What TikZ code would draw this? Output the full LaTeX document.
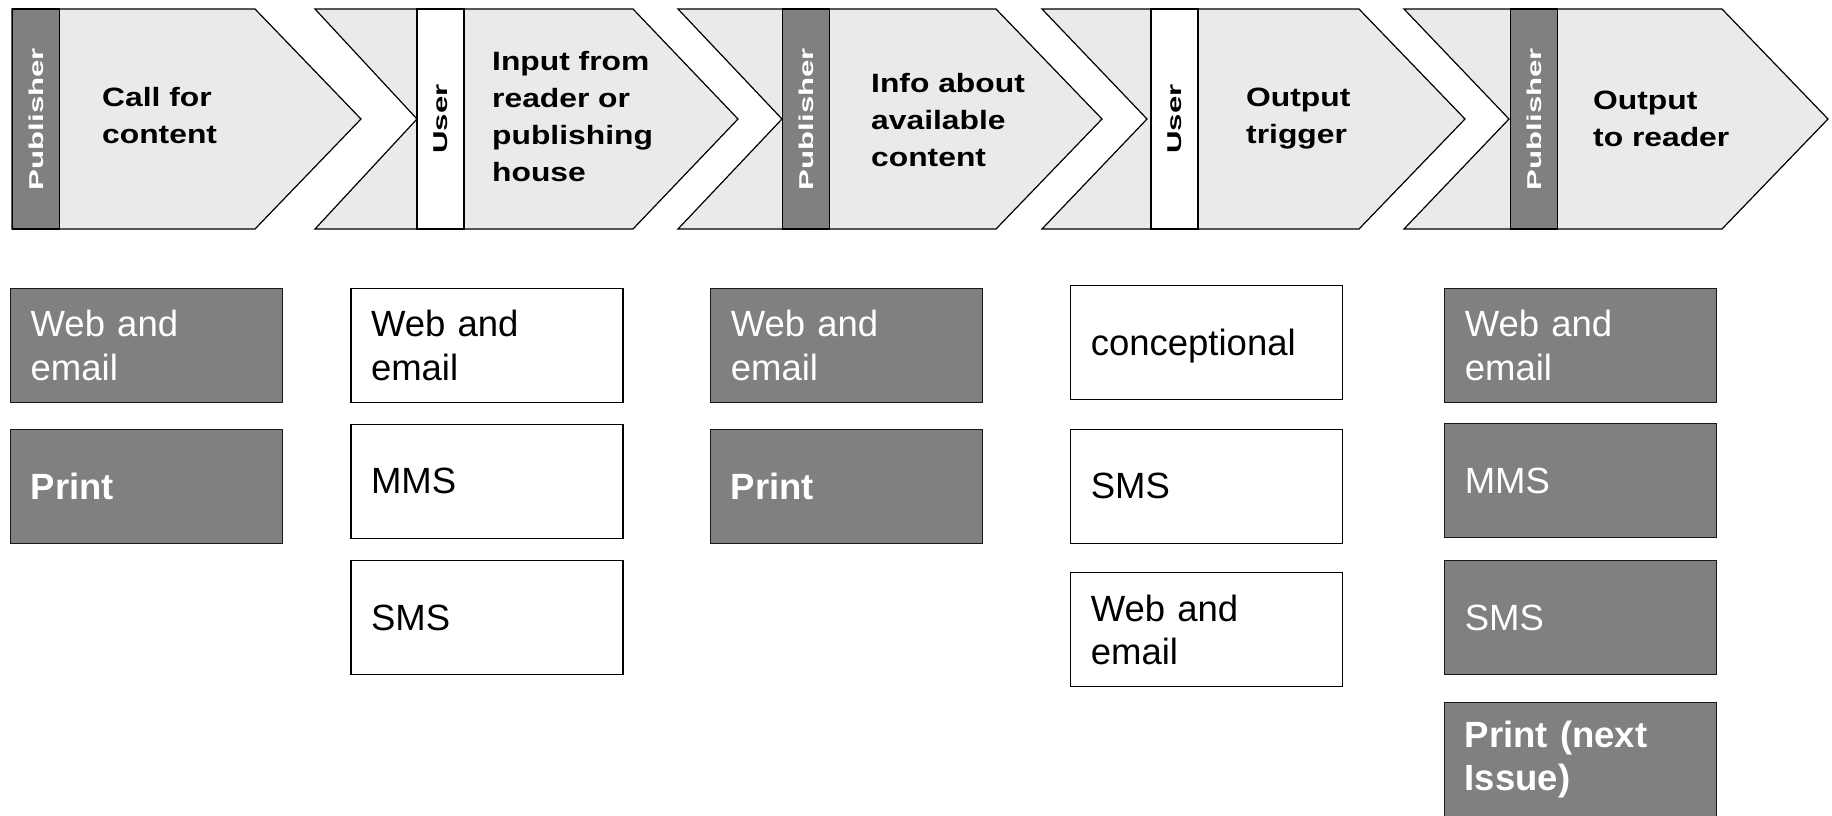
\documentclass[tikz,border=0pt]{standalone}
\usepackage{fontspec}
\setmainfont{Liberation Sans}
\newfontfamily\chevfont{Liberation Sans}[FakeStretch=1.2]
\newfontfamily\stripfont{Liberation Sans}[FakeStretch=1.56]
\definecolor{chevfill}{HTML}{EAEAEA}
\definecolor{darkfill}{HTML}{808080}
\begin{document}
\begin{tikzpicture}[x=1pt,y=-1pt,
  chevshape/.style={fill=chevfill,draw=black,line width=1.2pt,line join=miter},
  stripbase/.style={draw=black,line width=1.3pt,minimum width=47pt,minimum height=220pt,inner sep=0pt,
    font=\stripfont\bfseries\fontsize{20}{24}\selectfont},
  strippub/.style={stripbase,fill=darkfill,text=white},
  stripuser/.style={stripbase,fill=white,text=black},
  chevlabel/.style={anchor=base west,align=left,inner sep=0pt,
    font=\chevfont\bfseries\fontsize{26.5}{37}\selectfont},
  boxbase/.style={minimum width=272pt,minimum height=114pt,text width=232pt,inner xsep=20pt,inner ysep=0pt,
    align=left,line width=1.3pt,font=\fontsize{36.5}{43.3}\selectfont},
  darkbox/.style={boxbase,draw=black!90,fill=darkfill,text=white},
  lightbox/.style={boxbase,draw=black,fill=white,text=black}
]
\useasboundingbox (0,0) rectangle (1832,815);

% chevrons
\draw[chevshape] (12,9)--(255,9)--(361,119)--(255,229)--(12,229)--cycle;
\draw[chevshape] (315,9)--(633,9)--(738,119)--(633,229)--(315,229)--(417,119)--cycle;
\draw[chevshape] (678,9)--(996,9)--(1102,119)--(996,229)--(678,229)--(782,119)--cycle;
\draw[chevshape] (1042,9)--(1359,9)--(1465,119)--(1359,229)--(1042,229)--(1147,119)--cycle;
\draw[chevshape] (1404,9)--(1722,9)--(1828,119)--(1722,229)--(1404,229)--(1509,119)--cycle;

% role strips
\node[strippub]  (s1) at (36,119)    {\rotatebox{90}{Publisher}};
\node[stripuser] (s2) at (440.5,119) {\rotatebox{90}{User}};
\node[strippub]  (s3) at (806,119)   {\rotatebox{90}{Publisher}};
\node[stripuser] (s4) at (1174.5,119){\rotatebox{90}{User}};
\node[strippub]  (s5) at (1534,119)  {\rotatebox{90}{Publisher}};

% step labels (base = baseline of last line)
\node[chevlabel] (t1) at (102,143.3)  {Call for\\content};
\node[chevlabel] (t2) at (492,181.7)  {Input from\\reader or\\publishing\\house};
\node[chevlabel] (t3) at (871,166.7)  {Info about\\available\\content};
\node[chevlabel] (t4) at (1246,143.3) {Output\\trigger};
\node[chevlabel] (t5) at (1593,146.7) {Output\\to reader};

% column 1
\node[darkbox] (a1) at (146.7,345.3) {Web and\\email};
\node[darkbox] (a2) at (146.7,486.3) {\textbf{Print}};
% column 2
\node[lightbox] (b1) at (487,345.3) {Web and\\email};
\node[lightbox] (b2) at (487,481.3) {MMS};
\node[lightbox] (b3) at (487,617.5) {SMS};
% column 3
\node[darkbox] (c1) at (846.8,345.3) {Web and\\email};
\node[darkbox] (c2) at (846.8,486.3) {\textbf{Print}};
% column 4
\node[lightbox,text depth=0pt] (d1) at (1206.8,342.2) {conceptional};
\node[lightbox] (d2) at (1206.8,486.3) {SMS};
\node[lightbox] (d3) at (1206.8,629.7) {Web and\\email};
% column 5
\node[darkbox] (e1) at (1580.8,345.3) {Web and\\email};
\node[darkbox] (e2) at (1580.8,480.8) {MMS};
\node[darkbox] (e3) at (1580.8,617.5) {SMS};
\node[darkbox] (e4) at (1580.8,759.3) {\fontsize{36.5}{45}\selectfont\textbf{Print (next\\Issue)}};
\end{tikzpicture}
\end{document}
